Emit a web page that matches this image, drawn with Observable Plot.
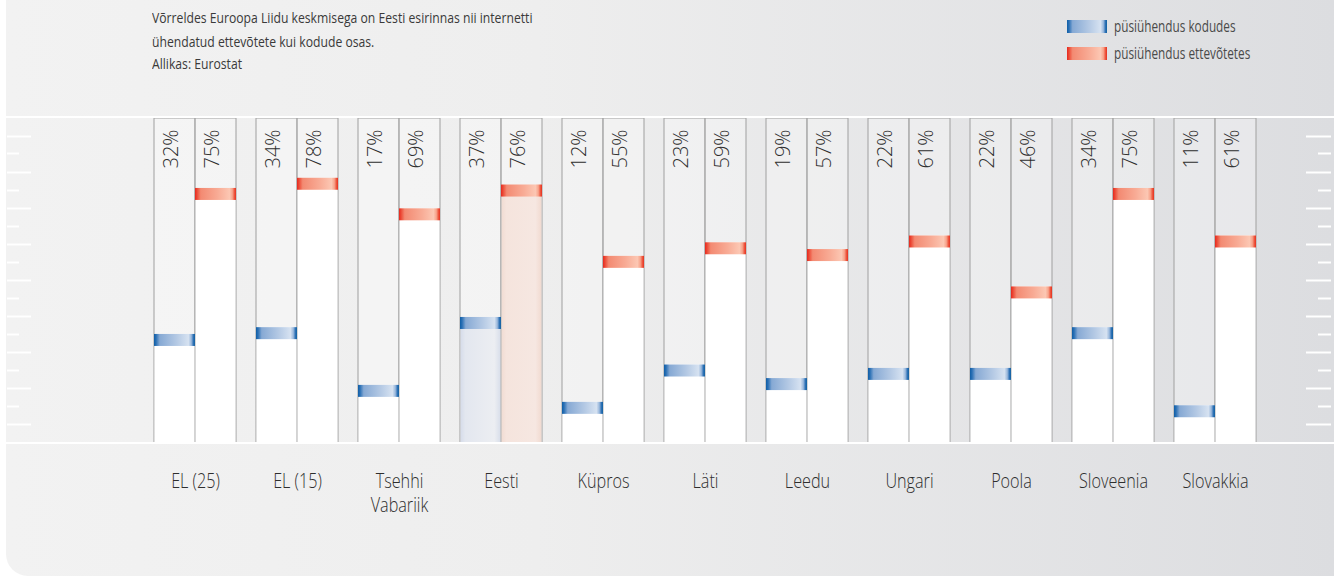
<!DOCTYPE html>
<html>
<head>
<meta charset="utf-8">
<script src="https://cdn.jsdelivr.net/npm/d3@7"></script>
<script src="https://cdn.jsdelivr.net/npm/@observablehq/plot@0.6"></script>
<style>
  html, body { margin: 0; padding: 0; background: #ffffff; }
  #wrap { position: relative; width: 1334px; height: 576px; overflow: hidden; }
  #panel { position: absolute; left: 6px; top: 0; right: 0; bottom: 0;
           border-bottom-left-radius: 22px;
           background: linear-gradient(to right, #f2f2f2 0%, #eeeeee 40%, #dcdde0 100%); }
  .hline { position: absolute; left: 6px; right: 0; height: 2px; background: #ffffff; z-index: 3; }
  .sub { position: absolute; left: 152px; font-family: "Open Sans", sans-serif; font-weight: 400;
         font-size: 14.5px; color: #3a3a3a; white-space: nowrap; line-height: 16px;
         transform: scaleX(0.84); transform-origin: 0 50%; }
  .leg { position: absolute; left: 1067px; display: flex; align-items: center; height: 14px; }
  .leg span { font-family: "Open Sans", sans-serif; font-weight: 400; font-size: 15.5px; color: #4a4a4a;
              white-space: nowrap; display: inline-block; transform: scaleX(0.76); transform-origin: 0 50%; }
  .leg svg { margin-right: 7px; }
  #chart { position: absolute; left: 0; top: 0; z-index: 2; }
</style>
</head>
<body>
<svg width="0" height="0" style="position:absolute">
  <defs>
    <linearGradient id="gBlue" x1="0" x2="1" y1="0" y2="0">
      <stop offset="0" stop-color="#0f5ea6"/>
      <stop offset="0.05" stop-color="#2a70b5"/>
      <stop offset="0.14" stop-color="#86a9d4"/>
      <stop offset="0.55" stop-color="#b4c9e4"/>
      <stop offset="0.84" stop-color="#d6e2f1"/>
      <stop offset="0.91" stop-color="#9ab8dc"/>
      <stop offset="0.96" stop-color="#2f72b6"/>
      <stop offset="1" stop-color="#11609f"/>
    </linearGradient>
    <linearGradient id="gRed" x1="0" x2="1" y1="0" y2="0">
      <stop offset="0" stop-color="#e5281f"/>
      <stop offset="0.05" stop-color="#ec4a36"/>
      <stop offset="0.14" stop-color="#f38a72"/>
      <stop offset="0.55" stop-color="#f8ab95"/>
      <stop offset="0.84" stop-color="#fcc7b3"/>
      <stop offset="0.91" stop-color="#f7a48c"/>
      <stop offset="0.96" stop-color="#ee5840"/>
      <stop offset="1" stop-color="#e5301f"/>
    </linearGradient>
    <linearGradient id="gEestiBlue" x1="0" x2="1" y1="0" y2="0">
      <stop offset="0" stop-color="#d6dcea"/>
      <stop offset="0.12" stop-color="#e3e7ef"/>
      <stop offset="0.85" stop-color="#eceef2"/>
      <stop offset="1" stop-color="#d8deea"/>
    </linearGradient>
    <linearGradient id="gEestiRed" x1="0" x2="1" y1="0" y2="0">
      <stop offset="0" stop-color="#f1dcd3"/>
      <stop offset="0.12" stop-color="#f5e4dd"/>
      <stop offset="0.85" stop-color="#f6e7e1"/>
      <stop offset="1" stop-color="#f1dad0"/>
    </linearGradient>
  </defs>
</svg>
<div id="wrap">
  <div id="panel"></div>
  <div class="hline" style="top:116px"></div>
  <div class="hline" style="top:442px"></div>
  <div id="texts"></div>
  <div id="chart"></div>
</div>
<script>
// ---- data ----
const countries = ["EL (25)", "EL (15)", "Tsehhi Vabariik", "Eesti", "Küpros", "Läti", "Leedu", "Ungari", "Poola", "Sloveenia", "Slovakkia"];
const kodud = [32, 34, 17, 37, 12, 23, 19, 22, 22, 34, 11];
const ettevotted = [75, 78, 69, 76, 55, 59, 57, 61, 46, 75, 61];
const seriesKeys = ["kodud", "ettevõtted"];
const seriesLabels = ["püsiühendus kodudes", "püsiühendus ettevõtetes"];
const subtitleLines = [
  "Võrreldes Euroopa Liidu keskmisega on Eesti esirinnas nii internetti",
  "ühendatud ettevõtete kui kodude osas.",
  "Allikas: Eurostat"
];
const highlight = "Eesti";
const yMax = 95.6;
const decoTicks = [5.4, 10.7, 16.0, 21.4, 26.8, 32.1, 37.4, 42.7, 48.0, 53.3, 58.6, 63.9, 69.2, 74.5, 79.8, 85.2, 90.4];

// ---- table ----
const rows = [];
countries.forEach((c, i) => {
  rows.push({country: c, series: "kodud", value: kodud[i]});
  rows.push({country: c, series: "ettevõtted", value: ettevotted[i]});
});

// ---- html text ----
const texts = document.getElementById("texts");
const subTops = [10, 34, 56];
subtitleLines.forEach((t, i) => {
  const d = document.createElement("div");
  d.className = "sub"; d.style.top = subTops[i] + "px"; d.textContent = t;
  texts.appendChild(d);
});
const legTops = [19, 46];
seriesLabels.forEach((t, i) => {
  const d = document.createElement("div");
  d.className = "leg"; d.style.top = legTops[i] + "px";
  d.innerHTML = `<svg width="40" height="13"><rect width="40" height="13" fill="url(#${i === 0 ? "gBlue" : "gRed"})"/></svg><span>${t}</span>`;
  texts.appendChild(d);
});

const plot = Plot.plot({
  width: 1334,
  height: 576,
  marginTop: 118,
  marginBottom: 133.4,
  marginLeft: 152,
  marginRight: 77,
  style: {background: "transparent", color: "#333"},
  fx: {domain: countries, paddingInner: 0.2, paddingOuter: 0, label: null},
  x: {domain: seriesKeys, padding: 0, axis: null},
  y: {domain: [0, yMax], axis: null},
  marks: [
    // column backgrounds with grey separators
    Plot.barY(rows, {fx: "country", x: "series", y1: 0, y2: yMax, fill: "#ffffff", fillOpacity: 0.3, stroke: "#a6a6a6", strokeWidth: 1.1}),
    // value fills
    Plot.barY(rows, {filter: d => d.country !== highlight, fx: "country", x: "series", y1: 0, y2: "value", fill: "#ffffff", insetLeft: 0.6, insetRight: 0.6}),
    Plot.barY(rows, {filter: d => d.country === highlight && d.series === "kodud", fx: "country", x: "series", y1: 0, y2: "value", fill: "url(#gEestiBlue)", insetLeft: 0.6, insetRight: 0.6}),
    Plot.barY(rows, {filter: d => d.country === highlight && d.series === "ettevõtted", fx: "country", x: "series", y1: 0, y2: "value", fill: "url(#gEestiRed)", insetLeft: 0.6, insetRight: 0.6}),
    // caps
    Plot.barY(rows, {filter: d => d.series === "kodud", fx: "country", x: "series", y1: "value", y2: "value", insetBottom: -12, fill: "url(#gBlue)"}),
    Plot.barY(rows, {filter: d => d.series === "ettevõtted", fx: "country", x: "series", y1: "value", y2: "value", insetBottom: -12, fill: "url(#gRed)"}),
    // percentage labels
    Plot.text(rows, {fx: "country", x: "series", text: d => d.value + "%", frameAnchor: "top", dx: -11, dy: 11, rotate: -90, textAnchor: "end",
      fontSize: 20, fontFamily: '"Open Sans", sans-serif', fontWeight: 300, fill: "#2e2e2e"}),
    // category axis
    Plot.axisFx({anchor: "bottom", tickSize: 0, tickPadding: 28, fontSize: 20.5, lineHeight: 1.18,
      fontFamily: '"Open Sans", sans-serif', fontWeight: 300, fill: "#2e2e2e", label: null,
      tickFormat: d => d.replace(" Vabariik", "\nVabariik")})
  ]
});

document.getElementById("chart").appendChild(plot);

const svg = d3.select(plot.tagName.toLowerCase() === "svg" ? plot : plot.querySelector("svg"));
// condense the category labels
svg.selectAll('g[aria-label="fx-axis tick label"] text').each(function() {
  const t = this.getAttribute("transform") || "";
  this.setAttribute("transform", t + " scale(0.79,1)");
});

// decorative side ticks using the plot's y scale
const yS = plot.scale("y");
const g = svg.append("g").attr("stroke", "#ffffff").attr("stroke-width", 2);
decoTicks.forEach((v, i) => {
  const yy = Math.round(yS.apply(v)) + 0.5;
  const long = i % 2 === 0;
  g.append("line").attr("x1", 7).attr("x2", long ? 31 : 19).attr("y1", yy).attr("y2", yy);
  g.append("line").attr("x1", long ? 1306 : 1318).attr("x2", 1331).attr("y1", yy).attr("y2", yy);
});
</script>
</body>
</html>
